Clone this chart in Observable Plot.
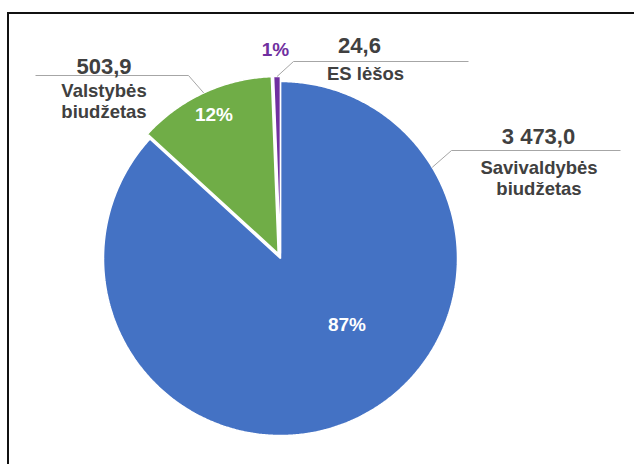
<!DOCTYPE html>
<html>
<head>
<meta charset="utf-8">
<script src="https://cdn.jsdelivr.net/npm/d3@7"></script>
<script src="https://cdn.jsdelivr.net/npm/@observablehq/plot@0.6"></script>
<style>
  html, body { margin: 0; padding: 0; background: #fff; }
  #wrap { position: relative; width: 634px; height: 464px; overflow: hidden; background: #fff; }
  #frame { position: absolute; left: 7px; top: 12px; width: 720px; height: 620px; border: 2px solid #111; box-sizing: border-box; pointer-events: none; z-index: 2; }
  #chart { position: absolute; left: 0; top: 0; z-index: 1; }
</style>
</head>
<body>
<div id="wrap"><div id="chart"></div><div id="frame"></div></div>
<script>
// ---- data ----
const categories = ["Savivaldybės biudžetas", "Valstybės biudžetas", "ES lėšos"];
const values = [3473.0, 503.9, 24.6];
const valueLabels = ["3 473,0", "503,9", "24,6"];
const percentLabels = ["87%", "12%", "1%"];
const nameLabels = ["Savivaldybės\nbiudžetas", "Valstybės\nbiudžetas", "ES lėšos"];
const colors = ["#4472C4", "#70AD47", "#7030A0"];

// ---- layout (pixels) ----
const W = 634, H = 464;
const CX = 280, CY = 258, R = 177;
const explode = [0, 5.5, 5];
const leaderAngleDeg = [59, null, null];        // null -> slice mid-angle
const leaderElbow = [[451, 150], [188, 75], [293, 61]];
const leaderEndX = [620, 35, 468];
const valuePos = [[538, 143], [103.5, 73], [359, 52]];
const namePos = [[538.5, 194], [103.5, 117], [365, 79]];
const pctPos = [[346.5, 330], [213.5, 120], [275, 55]];
const pctColors = ["#ffffff", "#ffffff", "#7030A0"];

const arcs = d3.pie().sort(null).value(d => d)(values);
const polar = (cx, cy, a, r) => [cx + r * Math.sin(a), cy - r * Math.cos(a)];

const slicePts = [];
const leaderPts = [];
arcs.forEach((a, i) => {
  const mid = (a.startAngle + a.endAngle) / 2;
  const [ox, oy] = polar(CX, CY, mid, explode[i]);
  slicePts.push({cat: categories[i], x: ox, y: oy});
  const n = Math.max(2, Math.ceil((a.endAngle - a.startAngle) / (Math.PI / 360)));
  for (let k = 0; k <= n; k++) {
    const t = a.startAngle + (a.endAngle - a.startAngle) * k / n;
    const [x, y] = polar(ox, oy, t, R);
    slicePts.push({cat: categories[i], x, y});
  }
  const la = leaderAngleDeg[i] == null ? mid : leaderAngleDeg[i] * Math.PI / 180;
  const [sx, sy] = polar(ox, oy, la, R);
  leaderPts.push({cat: categories[i], x: sx, y: sy});
  leaderPts.push({cat: categories[i], x: leaderElbow[i][0], y: leaderElbow[i][1]});
  leaderPts.push({cat: categories[i], x: leaderEndX[i], y: leaderElbow[i][1]});
});

const labels = categories.map((c, i) => ({
  cat: c, value: valueLabels[i], name: nameLabels[i], pct: percentLabels[i],
  vx: valuePos[i][0], vy: valuePos[i][1],
  nx: namePos[i][0], ny: namePos[i][1],
  px: pctPos[i][0], py: pctPos[i][1], pc: pctColors[i]
}));

const font = "Liberation Sans, Arial, sans-serif";
const chart = Plot.plot({
  width: W, height: H, margin: 0,
  x: {domain: [0, W], range: [0, W], axis: null},
  y: {domain: [0, H], range: [0, H], axis: null},
  color: {domain: categories, range: colors},
  style: {background: "transparent", fontFamily: font},
  marks: [
    Plot.line(slicePts, {x: "x", y: "y", z: "cat", fill: "cat", stroke: "white", strokeWidth: 1.5, curve: "linear-closed", strokeLinejoin: "miter"}),
    Plot.line(leaderPts, {x: "x", y: "y", z: "cat", stroke: "#a6a6a6", strokeWidth: 1, strokeLinecap: "butt"}),
    Plot.text(labels, {x: "px", y: "py", text: "pct", fill: d => d.pc, fontSize: 19, fontWeight: "bold", lineAnchor: "bottom", textAnchor: "middle", fontFamily: font}),
    Plot.text(labels, {x: "vx", y: "vy", text: "value", fill: "#404040", fontSize: 22, fontWeight: "bold", lineAnchor: "bottom", textAnchor: "middle", fontFamily: font}),
    Plot.text(labels, {x: "nx", y: "ny", text: "name", fill: "#404040", fontSize: 18.5, fontWeight: "bold", lineAnchor: "bottom", lineHeight: 1.12, textAnchor: "middle", fontFamily: font})
  ]
});
document.getElementById("chart").appendChild(chart);
</script>
</body>
</html>
